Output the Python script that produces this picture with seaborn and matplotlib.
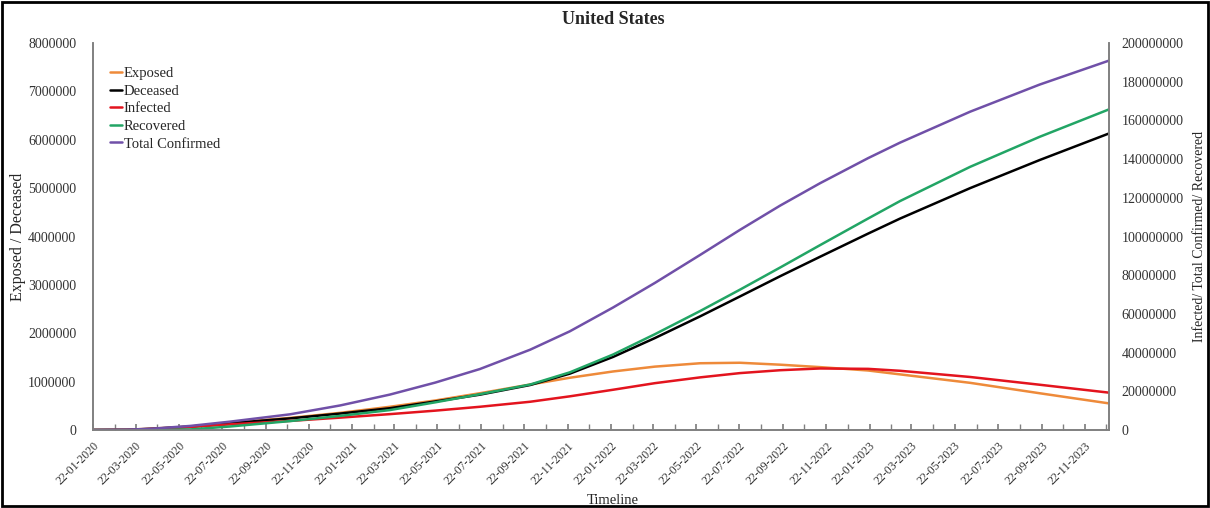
import matplotlib
matplotlib.use("Agg")
import matplotlib.pyplot as plt
import matplotlib.dates as mdates
from matplotlib.ticker import FuncFormatter
import pandas as pd
import seaborn as sns

# values
dates = ["2020-01-22", "2020-03-10", "2020-04-15", "2020-06-07", "2020-08-02",
         "2020-10-26", "2021-01-05", "2021-03-16", "2021-05-19", "2021-07-21",
         "2021-09-30", "2021-11-25", "2022-01-25", "2022-03-25", "2022-05-28",
         "2022-07-23", "2022-09-18", "2022-11-13", "2023-01-20", "2023-03-06",
         "2023-06-13", "2023-09-19", "2023-12-26"]

exposed = [0, 5e3, 3e4, 7e4, 1.5e5, 2.5e5, 3.55e5, 4.8e5, 6.1e5, 7.6e5, 9.4e5, 1.08e6,
           1.21e6, 1.31e6, 1.38e6, 1.39e6, 1.35e6, 1.30e6, 1.23e6, 1.15e6, 9.75e5,
           7.6e5, 5.5e5]
deceased = [0, 3e3, 2.5e4, 7e4, 1.4e5, 2.4e5, 3.4e5, 4.5e5, 5.9e5, 7.3e5, 9.3e5,
            1.165e6, 1.51e6, 1.90e6, 2.35e6, 2.76e6, 3.18e6, 3.58e6, 4.06e6, 4.37e6,
            5.0e6, 5.58e6, 6.13e6]
infected = [0, 1e5, 5e5, 1.5e6, 2.9e6, 4.7e6, 6.4e6, 8.2e6, 1.0e7, 1.2e7, 1.46e7,
            1.74e7, 2.08e7, 2.42e7, 2.72e7, 2.94e7, 3.09e7, 3.18e7, 3.16e7, 3.06e7,
            2.74e7, 2.34e7, 1.93e7]
recovered = [0, 0, 5e4, 3e5, 1.8e6, 4.6e6, 7.3e6, 1.03e7, 1.43e7, 1.85e7, 2.35e7,
             2.98e7, 3.9e7, 4.95e7, 6.15e7, 7.25e7, 8.4e7, 9.55e7, 1.093e8, 1.183e8,
             1.36e8, 1.515e8, 1.657e8]
total_confirmed = [0, 1.5e5, 7e5, 2.1e6, 4.3e6, 8.1e6, 1.27e7, 1.83e7, 2.45e7, 3.15e7,
                   4.15e7, 5.1e7, 6.33e7, 7.6e7, 9.05e7, 1.034e8, 1.16e8, 1.275e8,
                   1.405e8, 1.485e8, 1.645e8, 1.785e8, 1.909e8]

COLORS = {
    "Exposed": "#EE8A3A",
    "Deceased": "#000000",
    "Infected": "#E3141E",
    "Recovered": "#22A565",
    "Total Confirmed": "#7050A8",
}

df = pd.DataFrame({
    "date": pd.to_datetime(dates),
    "Exposed": exposed,
    "Deceased": deceased,
    "Infected": infected,
    "Recovered": recovered,
    "Total Confirmed": total_confirmed,
})

sns.set_theme(style="white")
plt.rcParams["font.family"] = ["Liberation Serif", "DejaVu Serif"]

fig, ax = plt.subplots(figsize=(12.1, 5.08), dpi=100)
fig.subplots_adjust(left=93 / 1210, right=1109 / 1210, bottom=78 / 508, top=465 / 508)
ax2 = ax.twinx()

# left axis series
for name in ["Exposed", "Deceased"]:
    sns.lineplot(data=df, x="date", y=name, ax=ax, color=COLORS[name], linewidth=1.8)
# right axis series
for name in ["Infected", "Recovered", "Total Confirmed"]:
    sns.lineplot(data=df, x="date", y=name, ax=ax2, color=COLORS[name], linewidth=1.8)

ax.set_xlim(df["date"].min(), df["date"].max())
ax.set_ylim(0, 8e6)
ax2.set_ylim(0, 2e8)
ax.set_yticks([i * 1e6 for i in range(9)])
ax2.set_yticks([i * 2e7 for i in range(11)])
fmt = FuncFormatter(lambda v, p: f"{v:.0f}")
ax.yaxis.set_major_formatter(fmt)
ax2.yaxis.set_major_formatter(fmt)

ax.xaxis.set_major_locator(mdates.MonthLocator(bymonth=range(1, 13, 2), bymonthday=22))
ax.xaxis.set_minor_locator(mdates.MonthLocator(bymonthday=22))
ax.xaxis.set_major_formatter(mdates.DateFormatter("%d-%m-%Y"))

grey = "#808080"
ax.tick_params(axis="x", which="both", bottom=True, direction="in", length=4,
               color=grey, labelsize=8.5, labelcolor="#333333", pad=7)
ax.tick_params(axis="y", length=0, pad=12, labelsize=10, labelcolor="#333333")
ax2.tick_params(axis="y", length=0, pad=9, labelsize=10, labelcolor="#333333")
plt.setp(ax.get_xticklabels(), rotation=45, ha="right", rotation_mode="anchor")

for a in (ax, ax2):
    a.spines["top"].set_visible(False)
    for s in ("left", "bottom", "right"):
        a.spines[s].set_color(grey)
        a.spines[s].set_linewidth(1.2)
    a.grid(False)

ax.set_xlabel("Timeline", fontsize=10.5)
ax.set_ylabel("Exposed / Deceased", fontsize=11.5)
ax2.set_ylabel("Infected/ Total Confirmed/ Recovered", fontsize=10)
ax.xaxis.set_label_coords(0.512, -0.183)
ax.xaxis.label.set_va("center")
ax.yaxis.set_label_coords(-0.074, 0.5)
ax.yaxis.label.set_va("center")
ax2.yaxis.set_label_coords(1.089, 0.5)
ax2.yaxis.label.set_va("center")

fig.text(0.507, 0.962, "United States", ha="center", va="center",
         fontsize=13, fontweight="bold")

# legend across both axes
lines = ax.get_lines() + ax2.get_lines()
labels = ["Exposed", "Deceased", "Infected", "Recovered", "Total Confirmed"]
ax2.legend(lines, labels, loc="upper left", bbox_to_anchor=(0.011, 0.953),
           frameon=False, fontsize=10.5, handlelength=0.8, handletextpad=0.15,
           labelspacing=0.3, borderaxespad=0)

# black frame round the whole picture
fig.patches.append(plt.Rectangle((0.002, 0.003), 0.996, 0.994, transform=fig.transFigure,
                                 fill=False, edgecolor="black", linewidth=2))

fig.savefig("out.png", dpi=100)
